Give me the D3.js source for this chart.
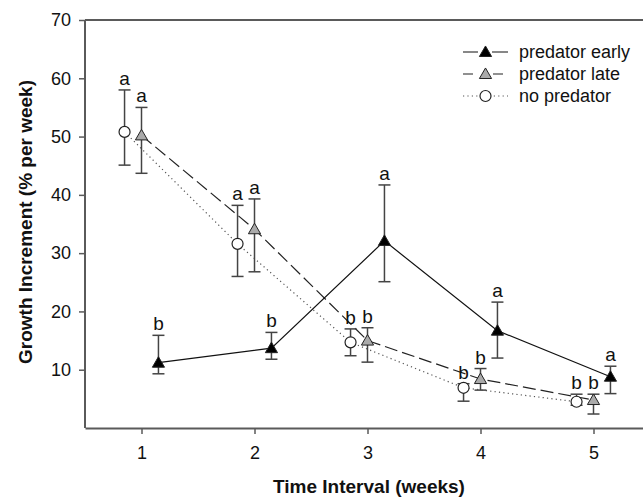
<!DOCTYPE html>
<html>
<head>
<meta charset="utf-8">
<script src="https://cdn.jsdelivr.net/npm/d3@7"></script>
<style>
  body { margin: 0; background: #fff; }
  text { font-family: Arial, "Liberation Sans", sans-serif; }
</style>
</head>
<body>
<svg id="chart" width="643" height="498"></svg>
<script>
// weeks and x offsets so the three groups don't overlap
const weeks = [1, 2, 3, 4, 5];
const xTicks = [1, 2, 3, 4, 5];
const yTicks = [10, 20, 30, 40, 50, 60, 70];

// predator early
const earlyMean  = [11.2, 13.7, 32.1, 16.7, 8.8];
const earlyUpper = [15.9, 16.4, 41.7, 21.6, 10.6];
const earlyLower = [9.3, 11.8, 25.1, 12.0, 5.9];
const earlyLetters = ["b", "b", "a", "a", "a"];

// predator late
const lateMean  = [50.2, 34.1, 15.0, 8.4, 4.8];
const lateUpper = [55.0, 39.3, 17.2, 10.2, 5.8];
const lateLower = [43.7, 26.8, 11.3, 6.5, 2.4];
const lateLetters = ["a", "a", "b", "b", "b"];

// no predator
const noneMean  = [50.8, 31.6, 14.7, 6.9, 4.5];
const noneUpper = [58.0, 38.2, 17.0, 7.6, 5.8];
const noneLower = [45.1, 26.0, 12.4, 4.6, 3.9];
const noneLetters = ["a", "a", "b", "b", "b"];

const svg = d3.select("#chart");
const axisCol = "#5a5a5a";

const x = d3.scaleLinear().domain([0.5, 5.5]).range([85, 650]);
const y = d3.scaleLinear().domain([0, 70]).range([428, 20]);

// frame: top line
svg.append("line").attr("x1", x(0.5)).attr("x2", 643)
  .attr("y1", y(70)).attr("y2", y(70))
  .attr("stroke", axisCol).attr("stroke-width", 2);

const yAxis = svg.append("g").attr("transform", `translate(${x(0.5)},0)`)
  .call(d3.axisLeft(y).tickValues(yTicks).tickFormat(d3.format("d")).tickSize(6).tickSizeOuter(0).tickPadding(8));
const xAxis = svg.append("g").attr("transform", `translate(0,${y(0)})`)
  .call(d3.axisBottom(x).tickValues(xTicks).tickFormat(d3.format("d")).tickSize(6).tickSizeOuter(0).tickPadding(12));
[yAxis, xAxis].forEach(g => {
  g.select(".domain").attr("stroke", axisCol).attr("stroke-width", 2);
  g.selectAll(".tick line").attr("stroke", axisCol).attr("stroke-width", 1.5);
  g.selectAll(".tick text").attr("font-size", 18).attr("fill", "#111")
    .attr("font-family", "Arial, 'Liberation Sans', sans-serif");
});
// y axis domain line should span full height
yAxis.select(".domain").attr("d", `M0,${y(0)}V${y(70)}`);

const series = [
  { name: "no predator", off: -0.15, mean: noneMean, up: noneUpper, lo: noneLower, letters: noneLetters,
    dash: "1.2,3.2", lineCol: "#555", shape: "circle", fill: "#fff", lw: 1.2 },
  { name: "predator late", off: 0, mean: lateMean, up: lateUpper, lo: lateLower, letters: lateLetters,
    dash: "13,5", lineCol: "#222", shape: "triangle", fill: "#aaa", lw: 1.2 },
  { name: "predator early", off: 0.15, mean: earlyMean, up: earlyUpper, lo: earlyLower, letters: earlyLetters,
    dash: null, lineCol: "#111", shape: "triangle", fill: "#000", lw: 1.2 }
];

function marker(g, s, cx, cy) {
  if (s.shape === "circle") {
    g.append("circle").attr("cx", cx).attr("cy", cy).attr("r", 5.5)
      .attr("fill", s.fill).attr("stroke", "#222").attr("stroke-width", 1.2);
  } else {
    g.append("path")
      .attr("d", d3.symbol(d3.symbolTriangle, 64)())
      .attr("transform", `translate(${cx},${cy + 1})`)
      .attr("fill", s.fill).attr("stroke", "#222").attr("stroke-width", 1);
  }
}

const line = d3.line().x(d => d[0]).y(d => d[1]);

series.forEach(s => {
  const pts = weeks.map((w, i) => [x(w + s.off), y(s.mean[i])]);
  svg.append("path").attr("d", line(pts)).attr("fill", "none")
    .attr("stroke", s.lineCol).attr("stroke-width", s.lw)
    .attr("stroke-dasharray", s.dash);
});

series.forEach(s => {
  const g = svg.append("g");
  weeks.forEach((w, i) => {
    const cx = x(w + s.off);
    g.append("line").attr("x1", cx).attr("x2", cx)
      .attr("y1", y(s.up[i])).attr("y2", y(s.lo[i]))
      .attr("stroke", "#444").attr("stroke-width", 1.5);
    [s.up[i], s.lo[i]].forEach(v => {
      g.append("line").attr("x1", cx - 6).attr("x2", cx + 6)
        .attr("y1", y(v)).attr("y2", y(v))
        .attr("stroke", "#444").attr("stroke-width", 1.5);
    });
    marker(g, s, cx, y(s.mean[i]));
    g.append("text").attr("x", cx).attr("y", y(s.up[i]) - 5)
      .attr("text-anchor", "middle").attr("font-size", 19).attr("fill", "#111")
      .text(s.letters[i]);
  });
});

// legend
const legendOrder = [series[2], series[1], series[0]];
const leg = svg.append("g");
legendOrder.forEach((s, i) => {
  const ly = 52 + i * 22;
  leg.append("line").attr("x1", 463).attr("x2", 508).attr("y1", ly).attr("y2", ly)
    .attr("stroke", s.lineCol).attr("stroke-width", s.lw)
    .attr("stroke-dasharray", s.dash === "13,5" ? "10,5" : s.dash);
  leg.append("rect").attr("x", 478).attr("y", ly - 6).attr("width", 14).attr("height", 12).attr("fill", "#fff");
  marker(leg, s, 485.5, ly);
  leg.append("text").attr("x", 519).attr("y", ly + 6).attr("font-size", 18).attr("fill", "#111")
    .text(s.name);
});

// axis titles
svg.append("text").attr("x", 369).attr("y", 493).attr("text-anchor", "middle")
  .attr("font-size", 19).attr("font-weight", "bold").attr("fill", "#111")
  .text("Time Interval (weeks)");
svg.append("text").attr("transform", "translate(32,222) rotate(-90)")
  .attr("text-anchor", "middle").attr("font-size", 19).attr("font-weight", "bold").attr("fill", "#111")
  .text("Growth Increment (% per week)");
</script>
</body>
</html>
